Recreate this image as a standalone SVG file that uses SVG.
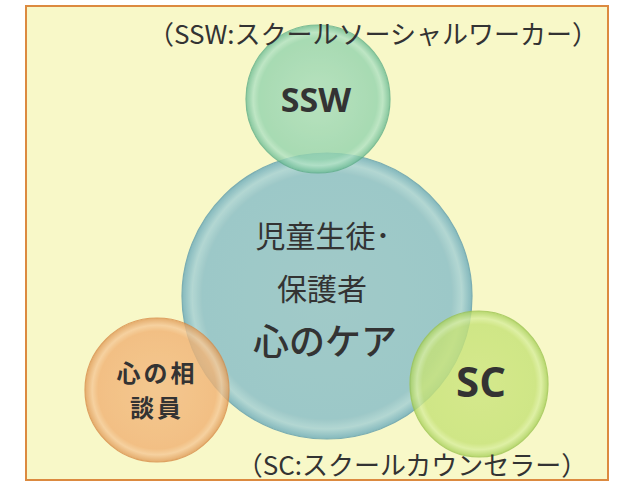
<svg xmlns="http://www.w3.org/2000/svg" width="620" height="485" viewBox="0 0 620 485">
<style>
.t{font-family:"Noto Sans CJK JP","Noto Sans",sans-serif;fill:#333333;text-anchor:middle}
.e{font-family:"Open Sans","Noto Sans",sans-serif;fill:#333333;text-anchor:middle;font-weight:bold}
.n{stroke-width:1.2}
</style>
<defs>
<radialGradient id="gSSW" cx="0.5" cy="0.5" r="0.5">
<stop offset="0" stop-color="#a8dcbc"/><stop offset="0.82" stop-color="#94d4ae"/><stop offset="0.9" stop-color="#b0e2c4"/><stop offset="1" stop-color="#6cbc94"/>
</radialGradient>
<radialGradient id="gC" cx="0.5" cy="0.5" r="0.5">
<stop offset="0" stop-color="#98c6c8"/><stop offset="0.86" stop-color="#93c3c8"/><stop offset="0.93" stop-color="#acd4d4"/><stop offset="1" stop-color="#78b2bc"/>
</radialGradient>
<radialGradient id="gO" cx="0.5" cy="0.5" r="0.5">
<stop offset="0" stop-color="#f3bc82"/><stop offset="0.82" stop-color="#f1b274"/><stop offset="0.9" stop-color="#f6c896"/><stop offset="1" stop-color="#e09a56"/>
</radialGradient>
<radialGradient id="gSC" cx="0.5" cy="0.5" r="0.5">
<stop offset="0" stop-color="#cce67e"/><stop offset="0.82" stop-color="#c6e276"/><stop offset="0.9" stop-color="#d8ee9c"/><stop offset="1" stop-color="#a8d05a"/>
</radialGradient>
</defs>
<rect width="620" height="485" fill="#ffffff"/>
<rect x="26" y="6" width="582" height="474" fill="#f8f8c8" stroke="#dc8a40" stroke-width="2"/>
<g id="connectors"></g>
<g id="node-center">
<ellipse class="n" cx="327" cy="296" rx="145" ry="143" fill="url(#gC)" stroke="#6ea6b0" opacity="0.9"/>
<text class="t" x="323" y="247" font-size="30">児童生徒･</text>
<text class="t" x="322" y="300" font-size="30">保護者</text>
<text class="t" x="325" y="355" font-size="36" font-weight="500">心のケア</text>
</g>
<g id="node-ssw">
<ellipse class="n" cx="318" cy="99" rx="72" ry="74" fill="url(#gSSW)" stroke="#5eae88" opacity="0.8"/>
<text class="e" x="316" y="112" font-size="34">SSW</text>
</g>
<g id="node-counselor">
<ellipse class="n" cx="157" cy="390" rx="72" ry="72" fill="url(#gO)" stroke="#d88c48" opacity="0.8"/>
<text class="t" x="157" y="382" font-size="24" font-weight="bold" letter-spacing="3">心の相</text>
<text class="t" x="157" y="417" font-size="24" font-weight="bold" letter-spacing="3">談員</text>
</g>
<g id="node-sc">
<ellipse class="n" cx="479" cy="384" rx="69" ry="73" fill="url(#gSC)" stroke="#9cc450" opacity="0.8"/>
<text class="e" x="481" y="397" font-size="42">SC</text>
</g>
<g id="labels">
<text class="t" x="373" y="44" font-size="26">（SSW:スクールソーシャルワーカー）</text>
<text class="t" x="412" y="475" font-size="26">（SC:スクールカウンセラー）</text>
</g>
</svg>
